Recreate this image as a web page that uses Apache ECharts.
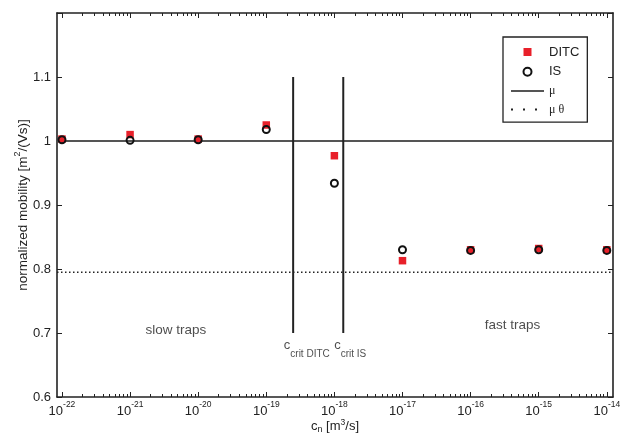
<!DOCTYPE html>
<html>
<head>
<meta charset="utf-8">
<script src="https://cdn.jsdelivr.net/npm/echarts@6/dist/echarts.min.js"></script>
<style>
    html, body { margin: 0; padding: 0; background: #fff; }
    #chart { width: 633px; height: 434px; }
</style>
</head>
<body>
<div id="chart"></div>
<script>
    // capture coefficient c_n [m^3/s]
    var cn = [1e-22, 1e-21, 1e-20, 1e-19, 1e-18, 1e-17, 1e-16, 1e-15, 1e-14];
    var ditc = [1.003, 1.010, 1.003, 1.025, 0.977, 0.813, 0.830, 0.832, 0.830];
    var is = [1.002, 1.001, 1.002, 1.018, 0.934, 0.830, 0.829, 0.830, 0.829];
    var mu = 1.0;
    var muTheta = 0.795;
    // critical c_n values (vertical lines), DITC and IS
    var critNames = ['DITC', 'IS'];
    var critValues = [2.48e-19, 1.35e-18];
    var critRange = [0.7, 1.1];
    var xRange = [Math.pow(10, -22.073), Math.pow(10, -13.909)];
    var yTicks = [0.6, 0.7, 0.8, 0.9, 1.0, 1.1];

    var FONT = '"Liberation Sans", Arial, Helvetica, sans-serif';
    var lg = Math.log10;
    var xMin = lg(xRange[0]), xMax = lg(xRange[1]);

    var majors = [];
    var minors = [];
    for (var e = -22; e <= -14; e++) {
        majors.push(e);
        if (e < -14) {
            for (var k = 2; k <= 9; k++) minors.push(e + lg(k));
        }
    }

    function pairs(ys) {
        return cn.map(function (c, i) { return [lg(c), ys[i]]; });
    }

    var frameLine = { color: '#222', width: 1.6 };

    function xAx(pos, ticks, len, showLine) {
        return {
            type: 'value', position: pos, min: xMin, max: xMax,
            axisLine: { show: showLine, lineStyle: frameLine },
            axisTick: { inside: true, length: len, customValues: ticks, lineStyle: { color: '#222', width: 1 } },
            axisLabel: { show: false },
            splitLine: { show: false }
        };
    }

    var xAxes = [xAx('bottom', majors, 5, true), xAx('bottom', minors, 3, false),
                 xAx('top', majors, 5, true), xAx('top', minors, 3, false)];
    xAxes[0].axisLabel = {
        show: true, customValues: majors, margin: 3,
        formatter: function (v) { return '{b|10}{s|' + Math.round(v) + '}'; },
        rich: {
            b: { fontFamily: FONT, fontSize: 13, color: '#222', lineHeight: 18, verticalAlign: 'bottom' },
            s: { fontFamily: FONT, fontSize: 8.5, color: '#222', lineHeight: 18, verticalAlign: 'top' }
        }
    };
    xAxes[0].name = '{a|c}{sub|n}{a| [m}{sup|3}{a|/s]}';
    xAxes[0].nameLocation = 'middle';
    xAxes[0].nameGap = 21;
    xAxes[0].nameMoveOverlap = false;
    xAxes[0].nameTextStyle = {
        rich: {
            a: { fontFamily: FONT, fontSize: 13, color: '#222', lineHeight: 16, verticalAlign: 'middle' },
            sub: { fontFamily: FONT, fontSize: 9, color: '#222', lineHeight: 16, verticalAlign: 'bottom' },
            sup: { fontFamily: FONT, fontSize: 8.5, color: '#222', lineHeight: 16, verticalAlign: 'top' }
        }
    };

    function yAx(pos, showLabel) {
        return {
            type: 'value', position: pos, min: 0.6, max: 1.2, interval: 0.1,
            axisLine: { show: true, lineStyle: frameLine },
            axisTick: { inside: true, length: 5, lineStyle: { color: '#222', width: 1 } },
            axisLabel: {
                show: showLabel, margin: 6, fontFamily: FONT, fontSize: 13, color: '#222',
                formatter: function (v) {
                    var r = Math.round(v * 10) / 10;
                    return yTicks.indexOf(r) < 0 ? '' : (r === 1 ? '1' : r.toFixed(1));
                }
            },
            splitLine: { show: false }
        };
    }
    var yAxes = [yAx('left', true), yAx('right', false)];
    yAxes[0].name = '{a|normalized mobility [m}{sup|2}{a|/(Vs)]}';
    yAxes[0].nameLocation = 'middle';
    yAxes[0].nameGap = 27;
    yAxes[0].nameMoveOverlap = false;
    yAxes[0].nameTextStyle = {
        rich: {
            a: { fontFamily: FONT, fontSize: 13.5, color: '#222', lineHeight: 17, verticalAlign: 'bottom' },
            sup: { fontFamily: FONT, fontSize: 9, color: '#222', lineHeight: 17, verticalAlign: 'top' }
        }
    };

    var squarePath = 'path://M0 0H10V10H0Z';
    var series = [
        {
            name: 'DITC', type: 'scatter', data: pairs(ditc), symbol: squarePath, symbolSize: 7.5,
            itemStyle: { color: '#e8202a', opacity: 1 }, z: 3
        },
        {
            name: 'IS', type: 'scatter', data: pairs(is), symbol: 'circle', symbolSize: 7,
            itemStyle: { color: 'transparent', borderColor: '#111', borderWidth: 2, opacity: 1 }, z: 4
        },
        {
            name: 'μ', type: 'line', data: [[xMin, mu], [xMax, mu]], symbol: 'none',
            lineStyle: { color: '#555', width: 1.8 }, itemStyle: { color: '#555' }, z: 2
        },
        {
            name: 'μ θ', type: 'line', data: [[xMin, muTheta], [xMax, muTheta]], symbol: 'none',
            lineStyle: { color: '#222', width: 1.5, type: [1.5, 2.5] }, itemStyle: { color: '#222' }, z: 2
        }
    ];
    critValues.forEach(function (c) {
        series.push({
            type: 'line', data: [[lg(c), critRange[0]], [lg(c), critRange[1]]], symbol: 'none',
            lineStyle: { color: '#222', width: 2 }, silent: true, z: 2
        });
    });

    // text annotations, placed in data coordinates (left edge of text)
    var notes = [
        { x: 10 ** -20.78, y: 0.705, text: '{t|slow traps}' },
        { x: 10 ** -15.8, y: 0.7125, text: '{t|fast traps}' },
        { x: 10 ** -18.75, y: 0.675, text: '{c|c}{s|crit ' + critNames[0] + '}' },
        { x: 10 ** -18.01, y: 0.675, text: '{c|c}{s|crit ' + critNames[1] + '}' }
    ];
    series.push({
        type: 'scatter', silent: true, symbol: 'circle', symbolSize: 1,
        itemStyle: { color: 'transparent' },
        data: notes.map(function (n) { return [lg(n.x), n.y]; }),
        label: {
            show: true, position: 'right', distance: 0,
            formatter: function (p) { return notes[p.dataIndex].text; },
            rich: {
                t: { fontFamily: FONT, fontSize: 13.5, color: '#222' },
                c: { fontFamily: FONT, fontSize: 13, color: '#222', lineHeight: 20, verticalAlign: 'top' },
                s: { fontFamily: FONT, fontSize: 10, color: '#222', lineHeight: 20, verticalAlign: 'bottom' }
            }
        }
    });

    var hideSymbol = { color: 'transparent', borderColor: 'transparent', borderWidth: 0 };
    var chart = echarts.init(document.getElementById('chart'));
    chart.setOption({
        animation: false,
        backgroundColor: '#fff',
        grid: { left: 57, right: 20, top: 13, bottom: 37, outerBoundsMode: 'none', containLabel: false },
        xAxis: xAxes,
        yAxis: yAxes,
        legend: {
            data: [
                { name: 'DITC' }, { name: 'IS' },
                { name: 'μ', itemStyle: hideSymbol, lineStyle: { color: '#555', width: 2 } },
                { name: 'μ θ', itemStyle: hideSymbol, lineStyle: { color: '#222', width: 2, type: [2, 10] } }
            ],
            orient: 'vertical', left: 503, top: 37,
            padding: [8.5, 8, 6.5, 7], itemGap: 6.7, itemWidth: 33, itemHeight: 8,
            borderColor: '#222', borderWidth: 1.3, backgroundColor: '#fff',
            formatter: function (name) { return name.charAt(0) === 'μ' ? '{g|' + name + '}' : '{n|' + name + '}'; },
            textStyle: {
                rich: {
                    n: { fontFamily: FONT, fontSize: 13, color: '#222', lineHeight: 13 },
                    g: { fontFamily: '"Liberation Serif", "DejaVu Serif", serif', fontSize: 12, color: '#222', lineHeight: 13 }
                }
            }
        },
        series: series
    });
</script>
</body>
</html>
